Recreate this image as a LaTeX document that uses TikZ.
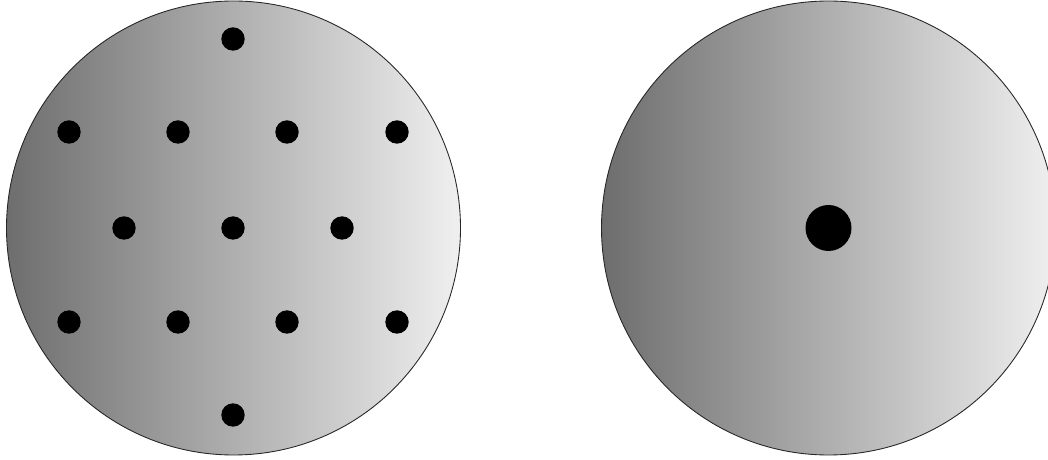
\documentclass[tikz,border=0pt]{standalone}
\usepackage{amssymb,amsmath,tikz}

\begin{document}
\begin{tikzpicture}
\useasboundingbox (0,0) rectangle (20.96,9.18);
\begin{scope}
\clip (0,0) rectangle (20.96,9.18);
\shade[left color=black!57, right color=black!6] (4.67,4.62) circle (4.54);
\draw[black!85, line width=0.5pt] (4.67,4.62) circle (4.54);
\shade[left color=black!57, right color=black!6] (16.57,4.62) circle (4.54);
\draw[black!85, line width=0.5pt] (16.57,4.62) circle (4.54);
\end{scope}
\fill (4.66,8.40) circle (0.234);
\fill (1.38,6.54) circle (0.234);
\fill (3.56,6.54) circle (0.234);
\fill (5.74,6.54) circle (0.234);
\fill (7.94,6.54) circle (0.234);
\fill (2.48,4.62) circle (0.234);
\fill (4.66,4.62) circle (0.234);
\fill (6.84,4.62) circle (0.234);
\fill (1.38,2.74) circle (0.234);
\fill (3.56,2.74) circle (0.234);
\fill (5.74,2.74) circle (0.234);
\fill (7.94,2.74) circle (0.234);
\fill (4.66,0.88) circle (0.234);
\fill (16.57,4.62) circle (0.46);
\end{tikzpicture}
\end{document}
